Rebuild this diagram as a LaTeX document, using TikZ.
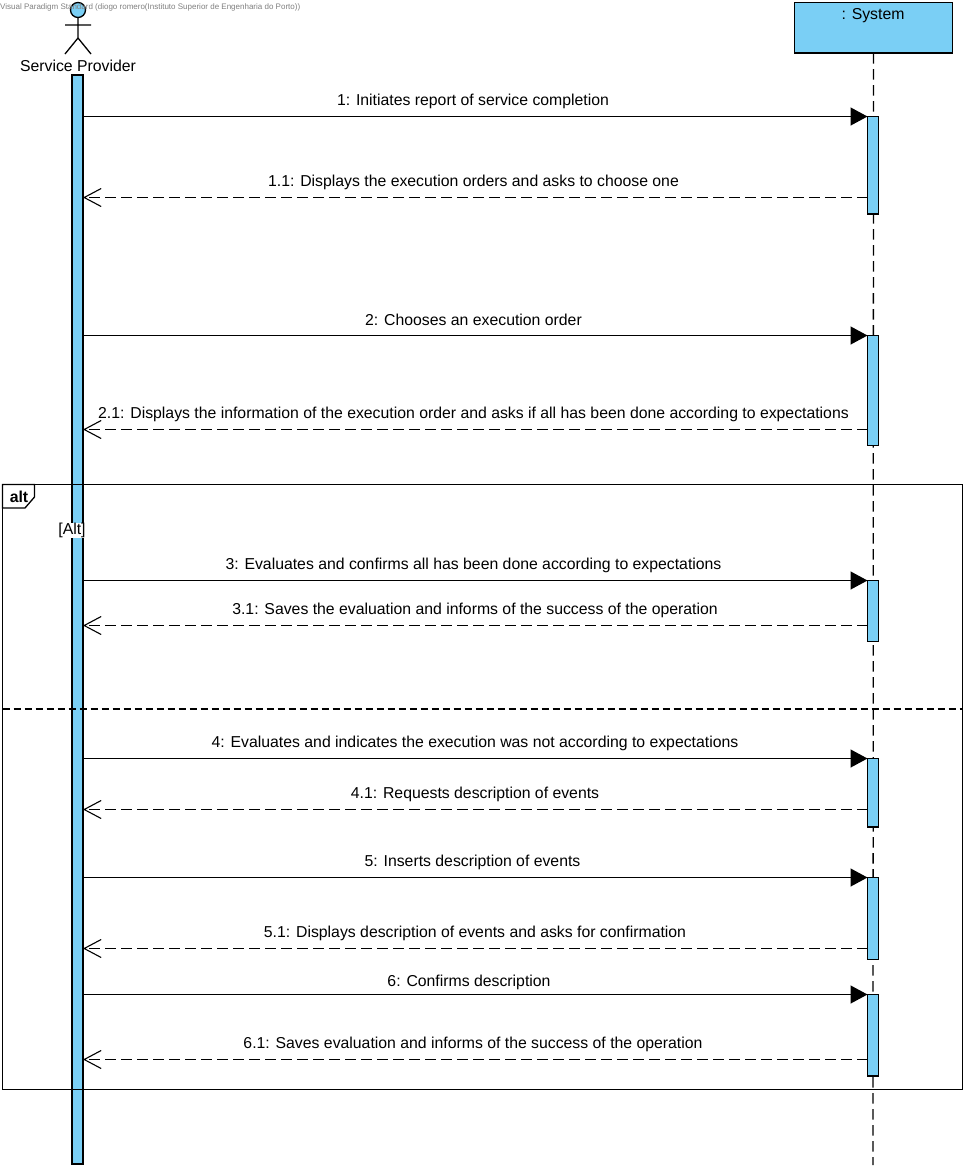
\documentclass[tikz,border=0pt]{standalone}
\usepackage{fontspec}
\setmainfont{Liberation Sans}
\usetikzlibrary{arrows.meta}
\definecolor{vpblue}{RGB}{122,207,245}
\definecolor{ink}{RGB}{0,0,0}
\tikzset{
  lineL/.style={draw=ink,line width=1.3pt},
  barbox/.style={draw=ink,line width=1.3pt,fill=vpblue,minimum width=11pt,inner sep=0pt,outer sep=0pt},
  life/.style={draw=ink,line width=1.3pt,dash pattern=on 10.5pt off 5.5pt},
  callmsg/.style={draw=ink,line width=1.3pt,-{Triangle[length=17pt,width=18pt]}},
  retmsg/.style={draw=ink,line width=1.3pt,dash pattern=on 10.5pt off 5.5pt,-{Straight Barb[length=17pt,width=18pt,line width=1.1pt]}},
  msgtext/.style={font=\fontsize{15.8pt}{17pt}\selectfont,inner sep=0pt,anchor=center},
}
\newcommand{\actbar}[3]{\node[barbox,minimum height=#3pt-#2pt,anchor=north] (#1) at (873,#2) {};}
\begin{document}
\begin{tikzpicture}[x=1pt,y=-1pt]
\useasboundingbox (0,0) rectangle (968,1171);
\fill[white] (0,0) rectangle (968,1171);
% lifelines
\node[draw=ink,line width=1.3pt,fill=vpblue,minimum width=158pt,minimum height=50.5pt,inner sep=0pt,outer sep=0pt,anchor=north west] (sys) at (794.5,2.5) {};
\node[msgtext] (systext) at (873,16) {: System};
\coordinate (sysend) at (873,1165);
\draw[life] (sys.south) -- (sysend);
% actor
\node[circle,draw=ink,line width=1.3pt,fill=vpblue,minimum size=15pt,inner sep=0pt] (head) at (78,10) {};
\coordinate (hip) at (78,38);
\coordinate (armL) at (65,25);
\coordinate (armR) at (91,25);
\coordinate (footL) at (65,54);
\coordinate (footR) at (91,54);
\draw[lineL] (head) -- (hip) (armL) -- (armR) (footL) -- (hip) -- (footR);
\node[msgtext] (actor) at (78,66) {Service Provider};
% activations
\node[barbox,minimum height=1089pt,anchor=north] (left) at (77.5,75) {};
\actbar{a1}{116.5}{214}
\actbar{a2}{335.5}{445.5}
\actbar{a3}{580.5}{641.5}
\actbar{a4}{758.5}{827}
\actbar{a5}{877.5}{959.5}
\actbar{a6}{994.5}{1076}
% frame
\node[draw=ink,line width=1.3pt,minimum width=960pt,minimum height=605pt,inner sep=0pt,outer sep=0pt,anchor=north west] (frame) at (2.5,484.5) {};
\draw[lineL,fill=white] (frame.north west) -- (34.5,484.5) -- (34.5,497) -- (25,508) -- (2.5,508) -- cycle;
\node[font=\fontsize{15.8pt}{17pt}\selectfont\bfseries,inner sep=0pt] (alt) at (19,497) {alt};
\node[font=\fontsize{15.8pt}{17pt}\selectfont,fill=white,inner sep=0.5pt] (guard) at (72,530.5) {[Alt]};
\coordinate (sepL) at (2.5,709);
\coordinate (sepR) at (962.5,709);
\draw[draw=ink,line width=1.1pt,dash pattern=on 7pt off 4pt] (sepL) -- (sepR);
% messages
\coordinate (L1) at (83,116.5);  \draw[callmsg] (L1) -- (a1.north west);
\coordinate (R1) at (867.5,197.5); \coordinate (L11) at (83,197.5); \draw[retmsg] (R1) -- (L11);
\coordinate (L2) at (83,335.5);  \draw[callmsg] (L2) -- (a2.north west);
\coordinate (R2) at (867.5,429.5); \coordinate (L21) at (83,429.5); \draw[retmsg] (R2) -- (L21);
\coordinate (L3) at (83,580.5);  \draw[callmsg] (L3) -- (a3.north west);
\coordinate (R3) at (867.5,625.5); \coordinate (L31) at (83,625.5); \draw[retmsg] (R3) -- (L31);
\coordinate (L4) at (83,758.5);  \draw[callmsg] (L4) -- (a4.north west);
\coordinate (R4) at (867.5,809.5); \coordinate (L41) at (83,809.5); \draw[retmsg] (R4) -- (L41);
\coordinate (L5) at (83,877.5);  \draw[callmsg] (L5) -- (a5.north west);
\coordinate (R5) at (867.5,948.5); \coordinate (L51) at (83,948.5); \draw[retmsg] (R5) -- (L51);
\coordinate (L6) at (83,994.5);  \draw[callmsg] (L6) -- (a6.north west);
\coordinate (R6) at (867.5,1059.5); \coordinate (L61) at (83,1059.5); \draw[retmsg] (R6) -- (L61);
% labels
\node[msgtext] (t1) at (473,101) {1: Initiates report of service completion};
\node[msgtext] (t11) at (473.5,182) {1.1: Displays the execution orders and asks to choose one};
\node[msgtext] (t2) at (473.5,320) {2: Chooses an execution order};
\node[msgtext] (t21) at (473.5,414) {2.1: Displays the information of the execution order and asks if all has been done according to expectations};
\node[msgtext] (t3) at (473.5,565) {3: Evaluates and confirms all has been done according to expectations};
\node[msgtext] (t31) at (475,610) {3.1: Saves the evaluation and informs of the success of the operation};
\node[msgtext] (t4) at (475,743) {4: Evaluates and indicates the execution was not according to expectations};
\node[msgtext] (t41) at (475,794) {4.1: Requests description of events};
\node[msgtext] (t5) at (472.5,862) {5: Inserts description of events};
\node[msgtext] (t51) at (475,933) {5.1: Displays description of events and asks for confirmation};
\node[msgtext] (t6) at (469,982) {6: Confirms description};
\node[msgtext] (t61) at (473,1044) {6.1: Saves evaluation and informs of the success of the operation};
% watermark
\node[font=\fontsize{8pt}{9pt}\selectfont,text=black!50,inner sep=0pt,anchor=west] (wm) at (0,7) {Visual Paradigm Standard (diogo romero(Instituto Superior de Engenharia do Porto))};
\end{tikzpicture}
\end{document}
